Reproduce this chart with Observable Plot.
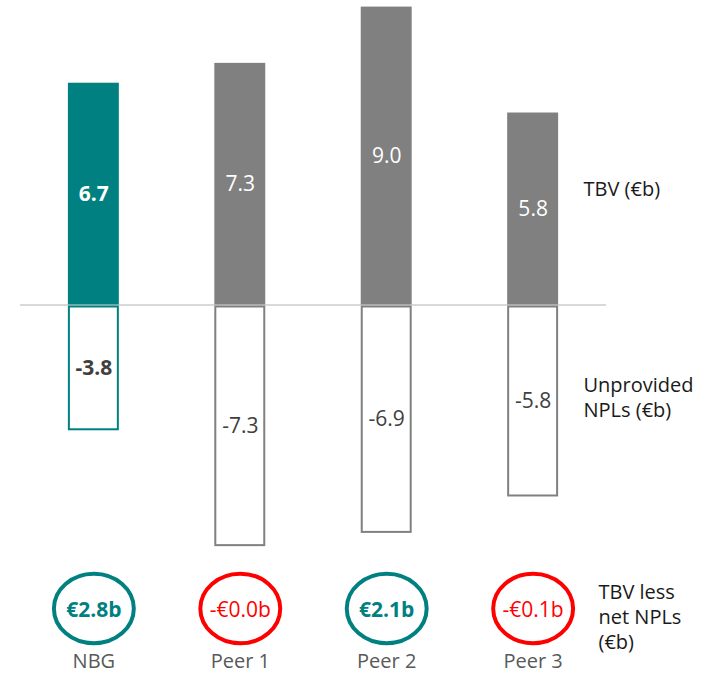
<!DOCTYPE html>
<html>
<head>
<meta charset="utf-8">
<script src="https://cdn.jsdelivr.net/npm/d3@7"></script>
<script src="https://cdn.jsdelivr.net/npm/@observablehq/plot@0.6"></script>
<style>
  html, body { margin: 0; padding: 0; background: #fff; }
</style>
</head>
<body>
<div id="chart"></div>
<script>
const categories = ["NBG", "Peer 1", "Peer 2", "Peer 3"];
const tbv = [6.7, 7.3, 9.0, 5.8];
const unprovidedNpl = [-3.8, -7.3, -6.9, -5.8];
const netValue = [2.8, -0.0, 2.1, -0.1];
const seriesLabels = ["TBV (€b)", "Unprovided\nNPLs (€b)", "TBV less\nnet NPLs\n(€b)"];

const TEAL = "#008080", GRAY = "#808080", RED = "#ff0000";

const rows = categories.map((c, i) => ({cat: c, tbv: tbv[i], npl: unprovidedNpl[i], net: netValue[i]}));
const isNeg = v => v < 0 || Object.is(v, -0);
const fmt1 = v => Math.abs(v).toFixed(1);
const netLabel = v => (isNeg(v) ? "-" : "") + "€" + fmt1(v) + "b";
const barColor = d => d.cat === "NBG" ? TEAL : GRAY;

const ellipse = {
  draw(ctx, size) {
    const r = Math.sqrt(size / Math.PI);
    const rx = r * 1.08, ry = r * 0.94, k = 0.5523;
    ctx.moveTo(rx, 0);
    ctx.bezierCurveTo(rx, ry * k, rx * k, ry, 0, ry);
    ctx.bezierCurveTo(-rx * k, ry, -rx, ry * k, -rx, 0);
    ctx.bezierCurveTo(-rx, -ry * k, -rx * k, -ry, 0, -ry);
    ctx.bezierCurveTo(rx * k, -ry, rx, -ry * k, rx, 0);
    ctx.closePath();
  }
};

const chart = Plot.plot({
  width: 709,
  height: 680,
  marginTop: 0,
  marginBottom: 0,
  marginLeft: 20,
  marginRight: 103,
  style: {fontFamily: "'Open Sans', sans-serif", background: "#fff", overflow: "visible"},
  x: {type: "band", domain: categories, paddingInner: 0.652, paddingOuter: 0.327, round: false, axis: null},
  y: {domain: [-11.344, 9.199], axis: null},
  color: {type: "identity"},
  marks: [
    Plot.ruleY([0], {stroke: "#d9d9d9", strokeWidth: 2}),
    Plot.barY(rows, {x: "cat", y: "tbv", fill: barColor}),
    Plot.barY(rows, {x: "cat", y: "npl", fill: "white", stroke: barColor, strokeWidth: 2, inset: 1, insetTop: 2}),
    // positive bar labels
    Plot.text(rows.filter(d => d.cat === "NBG"), {x: "cat", y: d => d.tbv / 2, text: d => fmt1(d.tbv), fill: "white", fontSize: 21, fontWeight: "bold"}),
    Plot.text(rows.filter(d => d.cat !== "NBG"), {x: "cat", y: d => d.tbv / 2, text: d => fmt1(d.tbv), fill: "white", fontSize: 21}),
    // negative bar labels
    Plot.text(rows.filter(d => d.cat === "NBG"), {x: "cat", y: d => d.npl / 2, text: d => d.npl.toFixed(1), fill: "#404040", fontSize: 21, fontWeight: "bold"}),
    Plot.text(rows.filter(d => d.cat !== "NBG"), {x: "cat", y: d => d.npl / 2, text: d => d.npl.toFixed(1), fill: "#404040", fontSize: 21}),
    // ellipses
    Plot.dot(rows, {x: "cat", frameAnchor: "bottom", dy: -72, r: 37, symbol: ellipse, fill: "white",
      stroke: d => isNeg(d.net) ? RED : TEAL, strokeWidth: 4}),
    Plot.text(rows.filter(d => !isNeg(d.net)), {x: "cat", frameAnchor: "bottom", lineAnchor: "middle", dy: -70, text: d => netLabel(d.net), fill: TEAL, fontSize: 21, fontWeight: "bold"}),
    Plot.text(rows.filter(d => isNeg(d.net)), {x: "cat", frameAnchor: "bottom", lineAnchor: "middle", dy: -70, text: d => netLabel(d.net), fill: RED, fontSize: 21}),
    // category labels
    Plot.text(rows, {x: "cat", frameAnchor: "bottom", lineAnchor: "middle", dy: -19, text: "cat", fill: "#595959", fontSize: 20}),
    // series labels
    Plot.text([seriesLabels[0]], {frameAnchor: "top-right", lineAnchor: "middle", dx: -23, dy: 187, text: d => d, textAnchor: "start", fill: "#1a1a1a", fontSize: 20, lineHeight: 1.25}),
    Plot.text([seriesLabels[1]], {frameAnchor: "top-right", lineAnchor: "middle", dx: -23, dy: 396, text: d => d, textAnchor: "start", fill: "#1a1a1a", fontSize: 20, lineHeight: 1.25}),
    Plot.text([seriesLabels[2]], {frameAnchor: "top-right", lineAnchor: "middle", dx: -8, dy: 615, text: d => d, textAnchor: "start", fill: "#1a1a1a", fontSize: 20, lineHeight: 1.25})
  ]
});
document.getElementById("chart").appendChild(chart);
</script>
</body>
</html>
